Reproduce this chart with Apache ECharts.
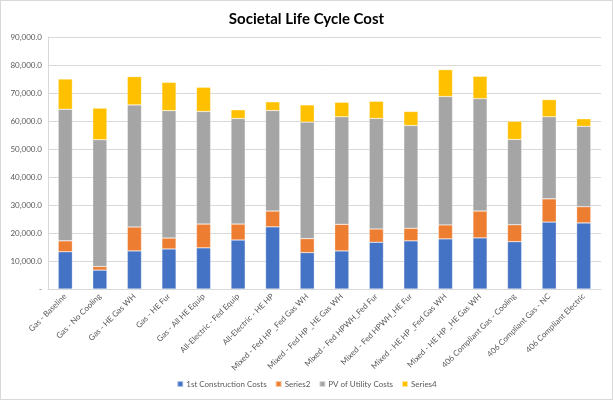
<!DOCTYPE html>
<html>
<head>
<meta charset="utf-8">
<script src="https://cdn.jsdelivr.net/npm/echarts@6/dist/echarts.min.js"></script>
<style>
  html, body { margin: 0; padding: 0; background: #fff; }
  #chart { width: 611px; height: 398px; border: 1px solid #d9d9d9; }
</style>
</head>
<body>
<div id="chart"></div>
<script>
var categories = ['Gas - Baseline', 'Gas - No Cooling', 'Gas - HE Gas WH', 'Gas - HE Fur',
    'Gas - All HE Equip', 'All-Electric - Fed Equip', 'All-Electric - HE HP',
    'Mixed - Fed HP _Fed Gas WH', 'Mixed - Fed HP _HE Gas WH', 'Mixed - Fed HPWH_Fed Fur',
    'Mixed - Fed HPWH_HE Fur', 'Mixed - HE HP _Fed Gas WH', 'Mixed - HE HP _HE Gas WH',
    '406 Compliant Gas - Cooling', '406 Compliant Gas - NC', '406 Compliant Electric'];

var constructionCosts = [13300, 6750, 13600, 14300, 14700, 17500, 22200, 13000,
    13600, 16700, 17200, 17900, 18250, 16900, 23900, 23600];
var series2 = [3900, 1300, 8550, 3900, 8500, 5700, 5650, 5000,
    9500, 4750, 4500, 5000, 9600, 6050, 8300, 5800];
var utilityCosts = [47000, 45250, 43600, 45500, 40200, 37700, 35900, 41600,
    38400, 39450, 36700, 45850, 40150, 30450, 29300, 28700];
var series4 = [10800, 11300, 10100, 10100, 8650, 3100, 3100, 6150,
    5200, 6150, 5000, 9600, 7950, 6500, 6150, 2700];

var chart = echarts.init(document.getElementById('chart'));

var font = 'Lato, "Open Sans", sans-serif';

function makeBar(name, data, color) {
    return {
        name: name,
        type: 'bar',
        stack: 'total',
        data: data,
        barWidth: '41%',
        itemStyle: { color: color, borderColor: 'rgba(255,255,255,0.6)', borderWidth: 0.5 }
    };
}

var option = {
    animation: false,
    textStyle: { fontFamily: font },
    title: {
        text: 'Societal Life Cycle Cost',
        left: 'center',
        top: 6,
        textStyle: { fontSize: 15, fontWeight: 'bold', color: '#000', fontFamily: font }
    },
    legend: {
        bottom: 6,
        left: 'center',
        itemWidth: 6,
        itemHeight: 6,
        itemGap: 8,
        icon: 'rect',
        textStyle: { fontSize: 8, color: '#595959', fontFamily: font, padding: [0, 0, 0, -2] }
    },
    grid: { left: 47, right: 11, top: 36, bottom: 110 },
    xAxis: {
        type: 'category',
        data: categories,
        axisTick: { show: false },
        axisLine: { lineStyle: { color: '#d9d9d9' } },
        axisLabel: { rotate: 45, fontSize: 8, color: '#595959', interval: 0, margin: 6 }
    },
    yAxis: {
        type: 'value',
        min: 0,
        max: 90000,
        interval: 10000,
        axisLine: { show: true, lineStyle: { color: '#d9d9d9' } },
        splitLine: { lineStyle: { color: '#d9d9d9' } },
        axisLabel: {
            fontSize: 8,
            color: '#595959',
            margin: 6,
            formatter: function (v) {
                if (v === 0) return '-';
                return v.toLocaleString('en-US', { minimumFractionDigits: 1, maximumFractionDigits: 1 });
            }
        }
    },
    series: [
        makeBar('1st Construction Costs', constructionCosts, '#4472C4'),
        makeBar('Series2', series2, '#ED7D31'),
        makeBar('PV of Utility Costs', utilityCosts, '#A5A5A5'),
        makeBar('Series4', series4, '#FFC000')
    ]
};
chart.setOption(option);
</script>
</body>
</html>
